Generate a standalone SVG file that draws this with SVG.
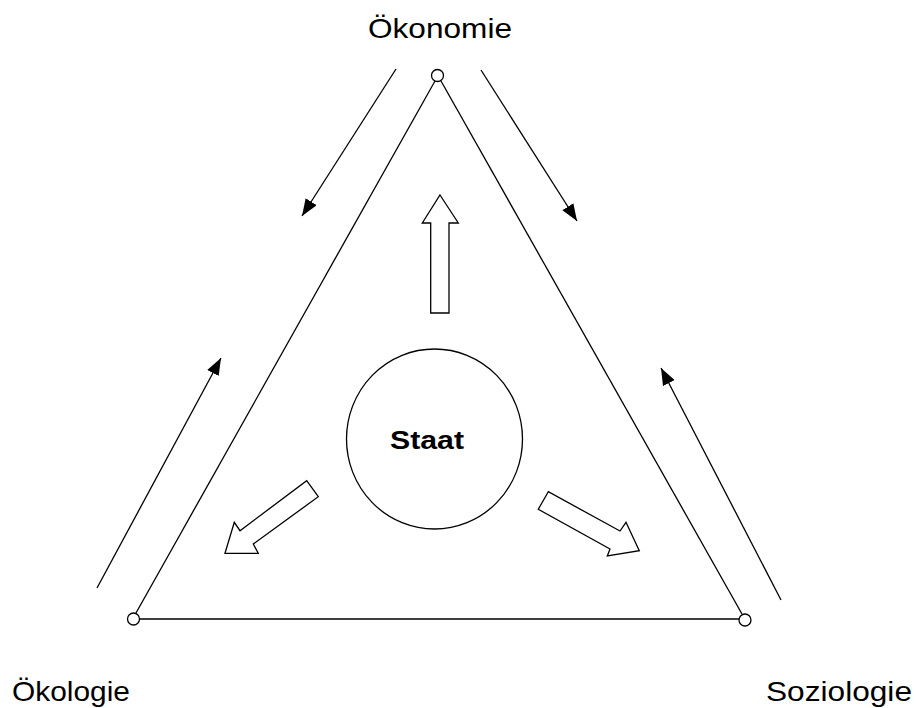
<svg xmlns="http://www.w3.org/2000/svg" width="919" height="708" viewBox="0 0 919 708">
<style>
.ln{stroke:#000;stroke-width:1.3;fill:none}
.blk{stroke:#000;stroke-width:1.3;fill:#fff;stroke-linejoin:miter}
.lbl{font-family:"Liberation Sans",Arial,sans-serif;font-size:28px;fill:#000}
.st{font-family:"Liberation Sans",Arial,sans-serif;font-size:26px;font-weight:bold;fill:#000}
</style>
<defs>
<marker id="ah" markerUnits="userSpaceOnUse" markerWidth="18" markerHeight="14" refX="17" refY="6.5" orient="auto">
<path d="M0,0 L17,6.5 L0,13 z" fill="#000"/>
</marker>
</defs>
<rect width="919" height="708" fill="#fff"/>
<g id="connectors">
<line class="ln" x1="435" y1="81" x2="136" y2="613"/>
<line class="ln" x1="441" y1="81" x2="742" y2="614"/>
<line class="ln" x1="139" y1="619" x2="739" y2="619"/>
<line class="ln" x1="396" y1="69" x2="302" y2="216" marker-end="url(#ah)"/>
<line class="ln" x1="481" y1="70" x2="577" y2="221" marker-end="url(#ah)"/>
<line class="ln" x1="97" y1="588" x2="221" y2="358" marker-end="url(#ah)"/>
<line class="ln" x1="781" y1="600" x2="661" y2="368" marker-end="url(#ah)"/>
</g>
<g id="oekonomie">
<circle class="blk" cx="437.5" cy="75.5" r="6"/>
<text class="lbl" x="368" y="38" textLength="144" lengthAdjust="spacingAndGlyphs">Ökonomie</text>
</g>
<g id="oekologie">
<circle class="blk" cx="133.5" cy="619" r="6"/>
<text class="lbl" x="12" y="701" textLength="118" lengthAdjust="spacingAndGlyphs">Ökologie</text>
</g>
<g id="soziologie">
<circle class="blk" cx="745" cy="620" r="6"/>
<text class="lbl" x="766" y="701" textLength="146" lengthAdjust="spacingAndGlyphs">Soziologie</text>
</g>
<g id="staat">
<ellipse class="blk" cx="434.5" cy="439" rx="88" ry="90"/>
<text class="st" x="390" y="449" textLength="74" lengthAdjust="spacingAndGlyphs">Staat</text>
</g>
<g id="arrow-up">
<path class="blk" d="M440,195 L458.3,223 L449,223 L449,313 L430.7,313 L430.7,223 L422.3,223 Z"/>
</g>
<g id="arrow-left">
<path class="blk" d="M225,553.3 L234.3,522.3 L240,530.7 L306.7,480.7 L318.3,496.7 L253.3,544 L258.3,553.3 Z"/>
</g>
<g id="arrow-right">
<path class="blk" d="M548.3,491.7 L538.3,509.3 L610,549 L607.3,556 L639.3,550.7 L626,522.3 L620,531 Z"/>
</g>
</svg>
